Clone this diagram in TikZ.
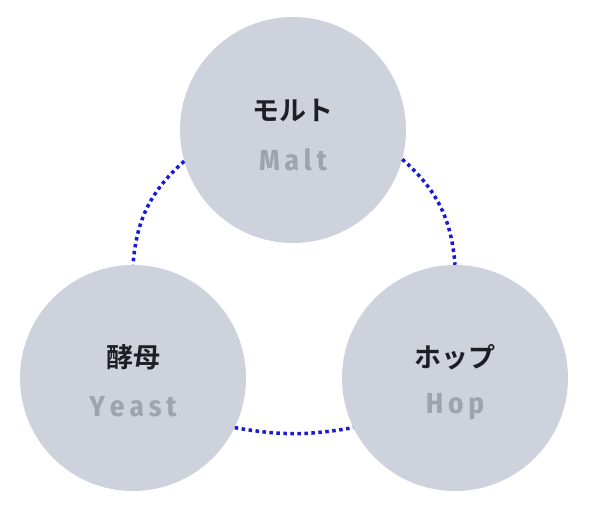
\documentclass[tikz,border=0pt]{standalone}
\usepackage{fontspec}
\newfontfamily\jpfont{Noto Sans CJK JP}[BoldFont=* Bold]
\newfontfamily\enfont{Fira Sans Condensed}[BoldFont=* Bold]
\definecolor{ballfill}{HTML}{CDD2DC}
\definecolor{subgray}{HTML}{9EA3AE}
\definecolor{linkblue}{HTML}{1A1AD6}
\definecolor{inkdark}{HTML}{1E1E24}
\begin{document}
\begin{tikzpicture}[x=1pt,y=-1pt]
\tikzstyle{ball}=[circle, fill=ballfill, minimum size=226pt, inner sep=0pt, align=center];
\tikzstyle{link}=[linkblue, line width=3.5pt, dash pattern=on 3.5pt off 3.5pt];
\useasboundingbox (0,0) rectangle (600,525);

\node[ball] (malt) at (293,130) {};
\node[ball] (yeast) at (133,378) {};
\node[ball] (hop) at (455,378) {};

\node[font=\jpfont\bfseries\fontsize{27}{27}\selectfont, text=inkdark] (maltjp) at (293,110) {モルト};
\node[font=\enfont\bfseries\fontsize{29}{29}\selectfont, text=subgray] (malten) at (293,160) {M\,a\,l\,t};
\node[font=\jpfont\bfseries\fontsize{27}{27}\selectfont, text=inkdark] (yeastjp) at (133,357) {酵母};
\node[font=\enfont\bfseries\fontsize{29}{29}\selectfont, text=subgray] (yeasten) at (133,407) {Y\,e\,a\,s\,t};
\node[font=\jpfont\bfseries\fontsize{27}{27}\selectfont, text=inkdark] (hopjp) at (455,357) {ホップ};
\node[font=\enfont\bfseries\fontsize{29}{29}\selectfont, text=subgray] (hopen) at (455,407) {H\,o\,p};

\draw[link] (malt.196) to[bend right=22] (yeast.90);
\draw[link] (malt.-15) to[bend left=22] (hop.90);
\draw[link] (yeast.-26) to[bend right=10] (hop.206);
\end{tikzpicture}
\end{document}
